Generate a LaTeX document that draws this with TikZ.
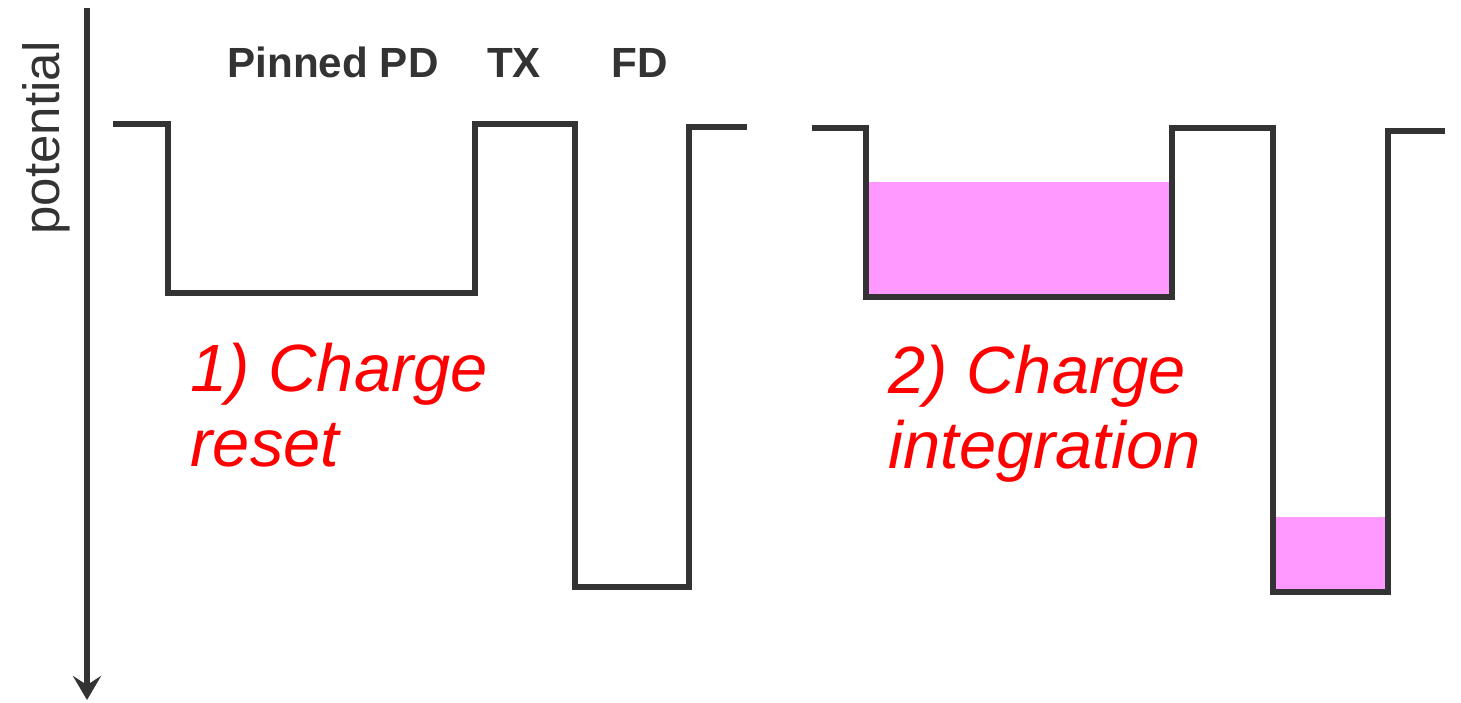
\documentclass[tikz,border=0pt]{standalone}
\usepackage{fontspec}
\setmainfont{Liberation Sans}
\usetikzlibrary{arrows.meta, positioning}
\definecolor{wellGray}{RGB}{ 51, 51, 51}
\definecolor{chargePink}{RGB}{255,153,255}
\definecolor{noteRed}{RGB}{255,  0,  0}

\begin{document}
\begin{tikzpicture}[x=0.01cm, y=-0.01cm,
  well/.style={draw=wellGray, line width=1.7pt, line join=miter},
  charge/.style={fill=chargePink, draw=none},
  lbl/.style={font=\bfseries\fontsize{12}{14}\selectfont, text=wellGray,
    anchor=base, inner sep=0pt},
  note/.style={font=\itshape\fontsize{19}{21.5}\selectfont, text=noteRed,
    align=left, anchor=north west, inner sep=0pt},
  axis/.style={draw=wellGray, line width=1.5pt,
    -{Stealth[length=0.24cm, width=0.28cm, inset=0.09cm]}},
]
\useasboundingbox (0,0) rectangle (1461,702);

%% Potential axis
\coordinate (top) at (87,8);
\coordinate (bot) at (87,700);
\draw[axis] (top) -- (bot);
\node[rotate=90, font=\fontsize{14.5}{16}\selectfont, text=wellGray]
  (pot) at (46,138) {potential};

%% Region labels
\node[lbl] (pd) at (333,77) {Pinned PD};
\node[lbl] (tx) at (514,77) {TX};
\node[lbl] (fd) at (640,77) {FD};

%% Stored charge (right profile)
\path[charge] (867,182) rectangle (1171,296);
\path[charge] (1275,517) rectangle (1386,590);

%% Left profile -- after reset
\draw[well] (113,124) -- (168,124) -- (168,293) -- (475,293) -- (475,124)
  -- (575,124) -- (575,587) -- (689,587) -- (689,127) -- (747,127);

%% Right profile -- during integration
\draw[well] (812,128) -- (866,128) -- (866,297) -- (1172,297) -- (1172,128)
  -- (1273,128) -- (1273,592) -- (1388,592) -- (1388,131) -- (1445,131);

%% Step captions
\node[note] (reset) at (190,342) {1) Charge\\reset};
\node[note] (integ) at (888,344) {2) Charge\\integration};
\end{tikzpicture}
\end{document}
